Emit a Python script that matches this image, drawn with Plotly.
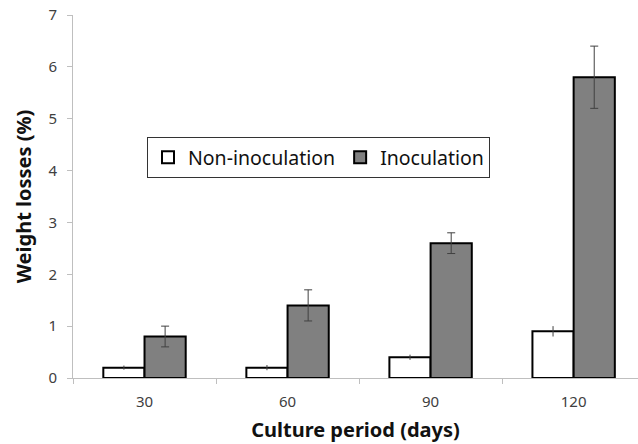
import plotly.graph_objects as go

categories = ["30", "60", "90", "120"]
non_inoc = [0.2, 0.2, 0.4, 0.9]
non_inoc_err = [0.04, 0.05, 0.05, 0.1]
inoc = [0.8, 1.4, 2.6, 5.8]
inoc_err = [0.2, 0.3, 0.2, 0.6]

fig = go.Figure()
fig.add_trace(go.Bar(
    x=categories, y=non_inoc, name="Non-inoculation",
    marker=dict(color="white", line=dict(color="black", width=2)),
    error_y=dict(type="data", array=non_inoc_err, color="#404040", thickness=1, width=0),
))
fig.add_trace(go.Bar(
    x=categories, y=inoc, name="Inoculation",
    marker=dict(color="#808080", line=dict(color="black", width=2)),
    error_y=dict(type="data", array=inoc_err, color="#404040", thickness=1, width=4),
))

W, H = 638, 444
l, r, t, b = 73, 0, 15, 66
pw, ph = W - l - r, H - t - b

fig.update_layout(
    width=W, height=H,
    margin=dict(l=l, r=r, t=t, b=b, autoexpand=False),
    paper_bgcolor="white", plot_bgcolor="white",
    barmode="group", bargap=0.424, bargroupgap=0,
    font=dict(family="Noto Sans", color="#222222"),
    showlegend=True,
    legend=dict(
        orientation="h",
        x=(147 - l) / pw, y=(H - b - 137) / ph,
        xanchor="left", yanchor="top",
        bordercolor="#333333", borderwidth=1, bgcolor="white",
        font=dict(size=19.5, color="#111111"),
        itemwidth=30,
    ),
    xaxis=dict(
        range=[-0.5, 3.45],
        showline=True, linecolor="#bfbfbf", linewidth=1,
        tickson="boundaries", ticks="outside", ticklen=5, tickcolor="#bfbfbf",
        ticklabelstandoff=10,
        tickfont=dict(size=15, color="#404040"),
        title=dict(text="<b>Culture period (days)</b>", font=dict(size=20, color="#111111"), standoff=12),
        showgrid=False, zeroline=False, automargin=False,
    ),
    yaxis=dict(
        range=[0, 7], dtick=1,
        showline=True, linecolor="#bfbfbf", linewidth=1,
        ticks="outside", ticklen=5, tickcolor="#bfbfbf",
        ticklabelstandoff=7,
        tickfont=dict(size=15, color="#404040"),
        title=dict(text="<b>Weight losses (%)</b>", font=dict(size=20, color="#111111"), standoff=11),
        showgrid=False, zeroline=False, automargin=False,
    ),
)

fig.write_html(
    "out.html",
    config={"displayModeBar": False},
    post_script="document.body.style.margin='0';document.body.style.overflow='hidden';",
)
